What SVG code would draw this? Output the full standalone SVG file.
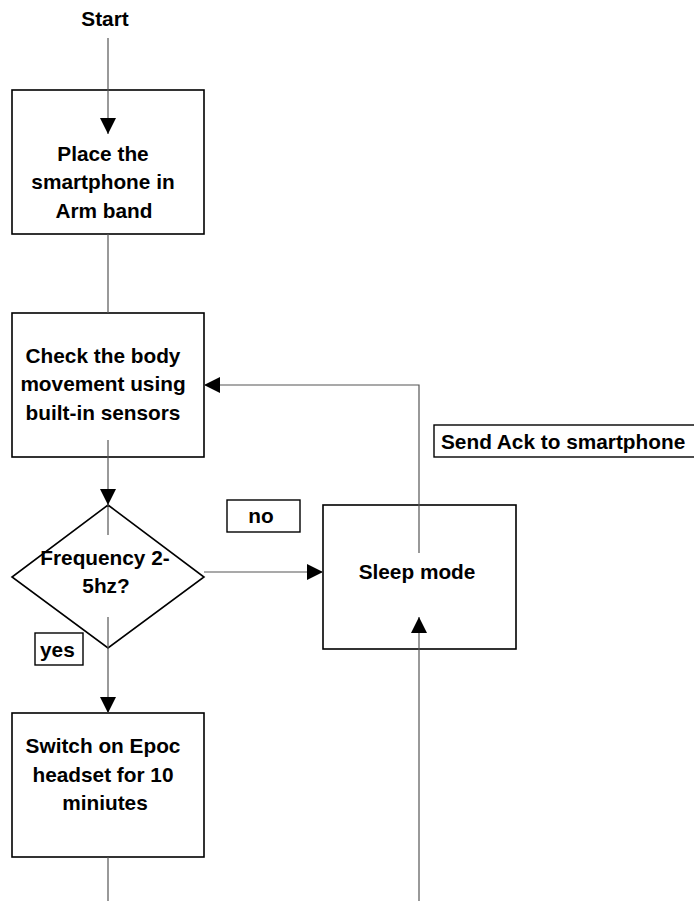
<svg xmlns="http://www.w3.org/2000/svg" width="694" height="901" viewBox="0 0 694 901">
<style>
.box{fill:#fff;stroke:#000;stroke-width:1.6}
.lbl{fill:#fff;stroke:#000;stroke-width:1.4}
.t{font-family:"Liberation Sans",Arial,sans-serif;font-weight:bold;font-size:20.8px;fill:#000}
.c{text-anchor:middle}
.ln{stroke:#555;stroke-width:1.2;fill:none}
</style>
<defs>
<marker id="ah" viewBox="0 0 10 10" refX="10" refY="5" markerWidth="16" markerHeight="16" markerUnits="userSpaceOnUse" orient="auto">
<path d="M0,0 L10,5 L0,10 Z" fill="#000"/>
</marker>
</defs>
<rect width="694" height="901" fill="#fff"/>

<g id="start"><text class="t c" x="105" y="26">Start</text></g>

<g id="n1">
<rect class="box" x="12" y="90" width="192" height="144"/>
<text class="t c" x="103" y="161">Place the</text>
<text class="t c" x="103" y="189">smartphone in</text>
<text class="t c" x="104" y="218">Arm band</text>
</g>

<g id="n2">
<rect class="box" x="12" y="313" width="192" height="144"/>
<text class="t c" x="103" y="363">Check the body</text>
<text class="t c" x="103" y="391">movement using</text>
<text class="t c" x="103" y="420">built-in sensors</text>
</g>

<g id="n3">
<path class="box" d="M108,505 L204,577 L108,648 L12,577 Z"/>
<text class="t c" x="105" y="565">Frequency 2-</text>
<text class="t c" x="106" y="593">5hz?</text>
</g>

<g id="n4">
<rect class="box" x="323" y="505" width="193" height="144"/>
<text class="t c" x="417" y="579">Sleep mode</text>
</g>

<g id="n5">
<rect class="box" x="12" y="713" width="192" height="144"/>
<text class="t c" x="103" y="753">Switch on Epoc</text>
<text class="t c" x="103" y="782">headset for 10</text>
<text class="t c" x="105" y="810">miniutes</text>
</g>

<g id="lbl-ack">
<rect class="lbl" x="434" y="425" width="270" height="32"/>
<text class="t" x="441" y="449">Send Ack to smartphone</text>
</g>
<g id="lbl-no">
<rect class="lbl" x="227" y="500" width="73" height="32"/>
<text class="t c" x="261" y="523">no</text>
</g>
<g id="lbl-yes">
<rect class="lbl" x="35" y="633" width="48" height="32"/>
<text class="t" x="40" y="657">yes</text>
</g>

<g id="connectors">
<line class="ln" x1="108" y1="38" x2="108" y2="134" marker-end="url(#ah)"/>
<line class="ln" x1="108" y1="234" x2="108" y2="313"/>
<line class="ln" x1="108" y1="440" x2="108" y2="505" marker-end="url(#ah)"/>
<line class="ln" x1="108" y1="505" x2="108" y2="535"/>
<line class="ln" x1="108" y1="617" x2="108" y2="713" marker-end="url(#ah)"/>
<line class="ln" x1="108" y1="857" x2="108" y2="901"/>
<line class="ln" x1="204" y1="572" x2="323" y2="572" marker-end="url(#ah)"/>
<polyline class="ln" points="419,553 419,385 204,385" marker-end="url(#ah)"/>
<line class="ln" x1="419" y1="901" x2="419" y2="617" marker-end="url(#ah)"/>
</g>
</svg>
